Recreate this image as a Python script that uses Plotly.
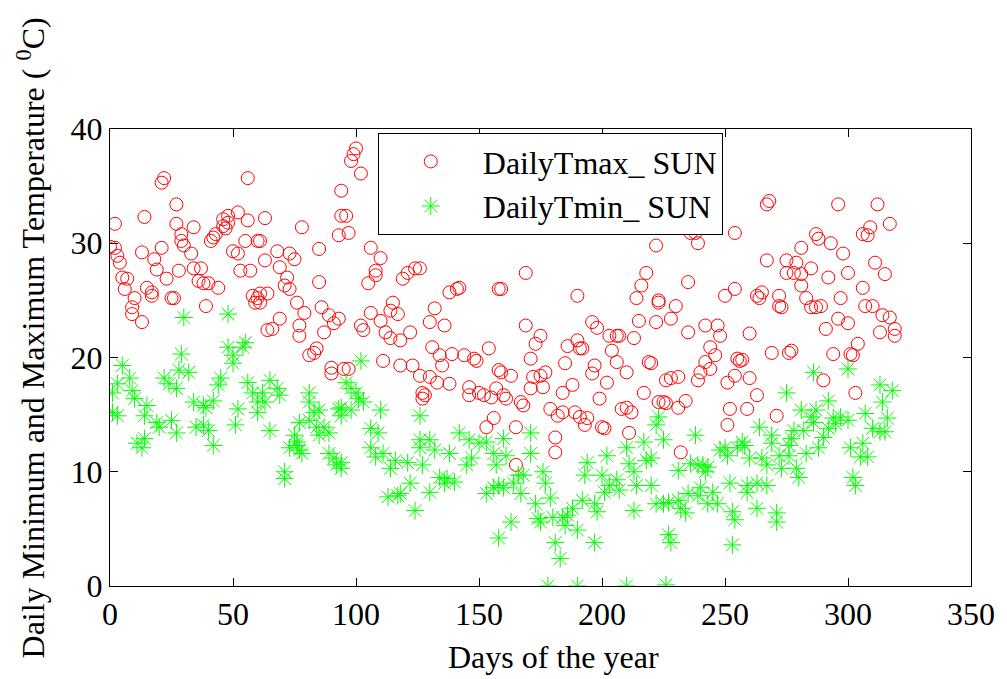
import plotly.graph_objects as go

# ---- Daily maximum temperature (day of year, deg C) ----
tmax_day = [0, 2, 2, 3, 4, 5, 6, 7, 9, 9, 10, 13, 13, 14, 15, 17, 17, 18, 19, 21,
            21, 22, 23, 25, 26, 27, 27, 28, 29, 29,
            30, 33, 34, 34, 37, 36, 38, 39, 40, 41, 42, 43, 44, 46, 46, 47, 48, 48, 50, 52,
            52, 53, 55, 56, 56, 57, 58, 59, 60, 60,
            61, 61, 61, 63, 63, 64, 64, 66, 68, 69, 69, 71, 72, 73, 73, 75, 76, 77, 77, 78,
            79, 81, 83, 84, 85, 85, 86, 87, 89, 90, 90, 91, 93, 93, 94, 94, 95,
            96, 97, 98, 99, 100, 102, 102, 103, 105, 106, 106, 108, 108, 110, 110, 111, 112,
            114, 114, 115, 117, 118, 118, 119, 121, 122, 123, 124, 126, 126, 127, 127, 97,
            128, 130, 130, 131, 132, 133, 134, 135, 136, 138, 138, 139, 141, 142, 144, 146,
            146, 148, 149, 150, 152, 153, 154, 155, 156, 157, 158, 158,
            159, 159, 160, 161, 163, 165, 165, 167, 168, 169, 169, 171, 171, 172, 173, 175,
            175, 176, 177, 179, 181, 181, 182, 184, 184, 185, 186, 188, 189, 190, 190, 191,
            191, 192, 193, 194, 196, 196, 197, 198, 199, 200, 201, 202, 203, 204, 206, 206,
            207, 208, 210, 210, 211, 212, 213, 214, 215, 216, 217, 218, 219, 220, 222, 222,
            223, 223,
            223, 225, 226, 226, 228, 228, 230, 231, 231, 232, 234, 235, 235, 236, 238, 239,
            239, 240, 242, 242, 244, 244, 246, 247, 248, 250, 251, 251, 252, 254, 254, 254,
            255, 256, 257, 259, 260, 260, 263, 263, 264, 265, 267, 267, 268, 269, 271, 272,
            272, 273, 275, 275, 276, 277, 278, 279, 281, 281, 281, 283, 285, 285, 287, 287,
            288, 289, 290, 291, 292, 293, 294, 296, 296, 297, 298, 300, 300, 301, 302, 303,
            304, 306, 306, 307, 308, 309, 310, 311, 312, 313, 314, 315, 317, 317, 319, 319]
tmax = [29.7, 31.7, 29.6, 28.9, 28.3, 27.0, 26.0, 26.9, 24.4, 23.8, 25.2, 23.1, 29.2, 32.3, 26.1, 25.7, 25.4, 28.6, 27.7, 29.6,
        35.3, 35.7, 26.9, 25.2, 25.2, 33.4, 31.7, 27.6, 30.8, 30.2,
        29.8, 29.1, 31.4, 27.8, 27.8, 26.7, 26.5, 24.5, 26.5, 30.2, 30.5, 30.8, 26.1, 32.1, 31.5, 31.3, 31.8, 32.4, 29.3, 32.7,
        29.1, 27.6, 30.2, 35.7, 32.0, 27.6, 25.4, 24.8, 25.2, 30.2,
        30.2, 25.6, 24.8, 32.2, 28.5, 25.6, 22.4, 22.5, 29.3, 27.9, 23.4, 26.3, 27.0, 29.1, 26.0, 28.6, 24.8, 22.8, 21.9, 31.4,
        23.9, 20.2, 20.4, 20.8, 29.5, 26.6, 24.4, 22.2, 23.7, 19.1, 18.6, 23.0, 30.7, 23.4, 34.6, 32.4, 19.0,
        32.4, 30.9, 37.2, 37.8, 38.3, 36.1, 22.8, 22.4, 26.5, 29.6, 23.9, 27.6, 27.2, 28.7, 23.2, 19.7, 22.2,
        24.1, 21.7, 24.8, 23.8, 21.5, 19.3, 26.9, 27.4, 22.2, 19.3, 27.8, 27.8, 18.4, 16.9, 16.4, 19.0,
        16.7, 23.1, 18.3, 20.9, 24.3, 17.8, 20.2, 19.3, 22.8, 25.7, 17.7, 20.3, 26.0, 26.1, 20.2, 17.4,
        16.7, 19.9, 19.7, 16.9, 16.7, 13.9, 20.8, 16.5, 14.7, 17.3, 26.0, 18.9,
        26.0, 18.7, 16.7, 16.4, 18.4, 13.9, 10.6, 16.1, 15.8, 27.4, 22.8, 19.9, 17.3, 18.3, 21.2, 21.9,
        18.4, 17.4, 18.7, 15.5, 13.0, 11.7, 14.9, 16.9, 15.2, 19.5, 21.0, 17.6, 15.2, 25.4, 21.5, 20.8,
        14.8, 20.8, 14.1, 14.7, 23.1, 18.6, 19.3, 22.6, 16.4, 13.9, 13.8, 17.8, 21.9, 20.6, 21.9, 19.6,
        21.9, 15.5, 18.7, 15.6, 13.4, 15.2, 21.7, 25.2, 23.2, 26.3, 16.9, 27.4, 19.6, 19.5, 29.8, 23.1,
        25.0, 16.1,
        24.8, 16.1, 18.0, 16.0, 23.4, 18.2, 24.5, 18.3, 15.6, 11.7, 16.2, 26.6, 22.2, 30.9, 30.9, 30.0,
        18.0, 18.7, 22.8, 19.6, 20.9, 19.0, 20.2, 22.8, 21.9, 25.4, 17.8, 14.1, 15.5, 30.9, 26.0, 18.4,
        19.9, 19.7, 19.8, 15.5, 22.1, 18.2, 25.4, 16.7, 25.2, 25.7, 33.4, 28.5, 33.7, 20.4, 14.9, 25.4,
        24.5, 24.4, 28.5, 27.4, 20.4, 20.6, 27.4, 28.3, 29.6, 27.3, 26.3, 25.2, 27.8, 24.4, 30.8, 24.4,
        30.4, 24.5, 18.0, 22.5, 27.0, 30.0, 20.3, 33.4, 23.4, 25.2, 29.1, 27.4, 23.0, 20.3, 20.2, 16.9,
        21.2, 30.8, 26.1, 24.5, 30.7, 31.4, 24.5, 28.3, 33.4, 22.2, 23.7, 27.3, 31.7, 23.5, 22.5, 21.9]

# ---- Daily minimum temperature (day of year, deg C) ----
tmin_day = [5, 3, 8, 1, 9, 1, 3, 10, 15, 14, 19, 20, 25, 27, 14, 11, 13, 22, 24, 28, 27, 30, 29,
            48, 48, 50, 55, 54, 50, 32, 45, 44, 56, 58, 60, 34, 38, 42, 39, 52, 60, 35, 38, 40, 51, 42,
            65, 68, 69, 62, 63, 81, 81, 83, 85, 93, 94, 77, 81, 84, 87, 89, 85, 65, 75, 76, 73, 77, 76,
            78, 89, 91, 92, 71, 71,
            102, 96, 98, 100, 101, 103, 94, 98, 110, 106, 109, 126, 126, 126, 106, 108, 111, 116, 121,
            114, 94, 94, 122, 113, 117, 118, 124,
            130, 132, 138, 127, 142, 146, 150, 153, 156, 147, 145, 134, 137, 140, 136, 130, 153, 156, 158,
            160, 171, 161, 171, 157, 176, 166, 168, 158, 177, 164, 167, 173, 179, 160, 188, 186, 163, 174,
            175, 180, 184, 185, 181, 183, 178, 190,
            222, 210, 217, 202, 194, 211, 218, 220, 193, 200, 206, 213, 203, 214, 220, 201, 207, 222, 192,
            197, 198, 213, 190, 197, 210,
            223, 238, 225, 248, 250, 251, 255, 231, 236, 239, 241, 243, 242, 252, 240, 235, 245, 239, 225,
            227, 231, 243, 247, 253, 232, 234, 254, 227, 228, 253, 226,
            286, 275, 281, 285, 286, 264, 269, 278, 282, 277, 257, 258, 269, 276, 283, 272, 276, 260, 265,
            267, 273, 279, 280, 259, 263, 267, 259, 263, 271, 271,
            300, 313, 318, 314, 292, 287, 297, 307, 316, 294, 295, 300, 292, 310, 313, 290, 315, 306, 288,
            301, 305, 308, 302, 303]
tmin = [19.3, 17.7, 18.2, 16.9, 17.1, 15.2, 14.9, 16.4, 15.8, 14.9, 14.3, 13.9, 14.5, 13.4, 12.9, 12.5, 12.1, 18.2, 17.7, 18.9, 17.3, 23.5, 20.3,
        23.8, 20.9, 20.2, 21.3, 20.9, 19.5, 18.7, 18.2, 17.6, 17.8, 16.9, 16.1, 16.1, 15.8, 16.2, 15.6, 15.5, 15.2, 13.9, 14.1, 13.6, 14.1, 12.3,
        18.0, 17.3, 16.7, 16.9, 16.1, 16.9, 16.1, 15.2, 15.4, 15.5, 14.9, 14.3, 14.5, 13.9, 13.9, 13.4, 13.2, 13.6, 13.2, 12.6, 12.1, 11.9, 12.3,
        11.6, 11.6, 11.2, 10.6, 10.0, 9.4,
        19.7, 17.8, 17.3, 16.9, 16.4, 16.1, 15.6, 15.4, 15.4, 13.8, 13.4, 14.9, 12.8, 12.1, 12.1, 11.3, 11.6, 11.0, 10.8,
        10.3, 10.8, 10.3, 9.0, 7.8, 7.9, 8.1, 6.6,
        12.8, 11.9, 11.6, 10.6, 13.4, 12.8, 12.5, 12.6, 11.6, 11.2, 10.6, 9.5, 9.4, 9.1, 9.0, 8.2, 8.1, 8.6, 4.2,
        12.9, 13.4, 11.4, 11.6, 10.6, 10.0, 9.7, 9.7, 8.8, 9.0, 9.0, 8.1, 7.2, 7.7, 8.6, 6.8, 6.2, 5.6, 5.9,
        5.6, 6.0, 6.0, 5.3, 3.8, 2.4, 0.0, 0.0,
        14.1, 12.1, 12.6, 11.4, 10.8, 10.7, 11.0, 11.2, 9.7, 9.7, 9.3, 10.0, 8.8, 8.8, 8.8, 8.2, 8.4, 7.2, 7.5,
        7.2, 6.5, 6.6, 4.9, 3.8, 0.0,
        14.8, 13.2, 12.8, 11.9, 12.1, 11.4, 12.1, 10.1, 10.7, 10.6, 10.6, 10.4, 10.0, 9.0, 8.6, 8.1, 8.2, 7.9, 7.2,
        7.3, 7.5, 7.2, 7.2, 6.5, 6.8, 6.4, 5.8, 4.5, 3.8, 3.6, 0.1,
        18.7, 16.9, 15.4, 14.8, 14.3, 13.9, 13.2, 13.6, 13.6, 12.9, 12.6, 12.3, 12.5, 12.3, 11.6, 11.4, 11.4, 11.2, 11.2,
        10.6, 10.3, 10.3, 9.5, 8.8, 9.0, 8.8, 8.2, 6.8, 6.4, 5.6,
        19.0, 17.6, 17.1, 16.1, 16.2, 15.4, 14.8, 15.1, 14.7, 14.7, 14.2, 14.5, 13.8, 13.8, 13.5, 13.0, 13.5, 12.5, 12.1,
        12.1, 11.3, 11.3, 9.5, 8.8]

x_ticks = [0, 50, 100, 150, 200, 250, 300, 350]
y_ticks = [0, 10, 20, 30, 40]

FONT = "Liberation Serif, Times New Roman, serif"

fig = go.Figure()
fig.add_trace(go.Scatter(
    x=tmax_day, y=tmax, mode="markers", name="DailyTmax_ SUN",
    marker=dict(symbol="circle-open", size=13, color="#ff0000", line=dict(width=1, color="#ff0000")),
))
fig.add_trace(go.Scatter(
    x=tmin_day, y=tmin, mode="markers", name="DailyTmin_ SUN",
    marker=dict(symbol="asterisk-open", size=15, color="#00ff00", line=dict(width=1, color="#00ff00")),
))

axis_common = dict(
    showline=True, linecolor="black", linewidth=1, mirror="ticks",
    ticks="inside", ticklen=8, tickcolor="black", tickwidth=1,
    showgrid=False, zeroline=False,
    tickfont=dict(family=FONT, size=32, color="black"),
)

fig.update_layout(
    width=1007, height=679,
    margin=dict(l=110, r=29, t=129, b=93),
    paper_bgcolor="white", plot_bgcolor="white",
    font=dict(family=FONT, size=32, color="black"),
    xaxis=dict(range=[0, 350], tickvals=x_ticks, ticktext=[str(v) for v in x_ticks], **axis_common),
    yaxis=dict(range=[0, 40], tickvals=y_ticks, ticktext=[str(v) for v in y_ticks], **axis_common),
    showlegend=True,
    legend=dict(
        x=0.311, y=0.991, xanchor="left", yanchor="top",
        bgcolor="white", bordercolor="black", borderwidth=1,
        font=dict(family=FONT, size=32, color="black"),
        itemwidth=94, tracegroupgap=0,
    ),
    annotations=[
        dict(text="Days of the year", xref="paper", yref="paper", x=0.515, y=-0.155,
             xanchor="center", yanchor="middle", showarrow=False,
             font=dict(family=FONT, size=32, color="black")),
        dict(text="Daily Minimum and Maximum Temperature ( <sup>0</sup>C)", xref="paper", yref="paper",
             x=-0.0922, y=0.543, xanchor="center", yanchor="middle", textangle=-90, showarrow=False,
             font=dict(family=FONT, size=32, color="black")),
    ],
)

fig.write_html("out.html")
